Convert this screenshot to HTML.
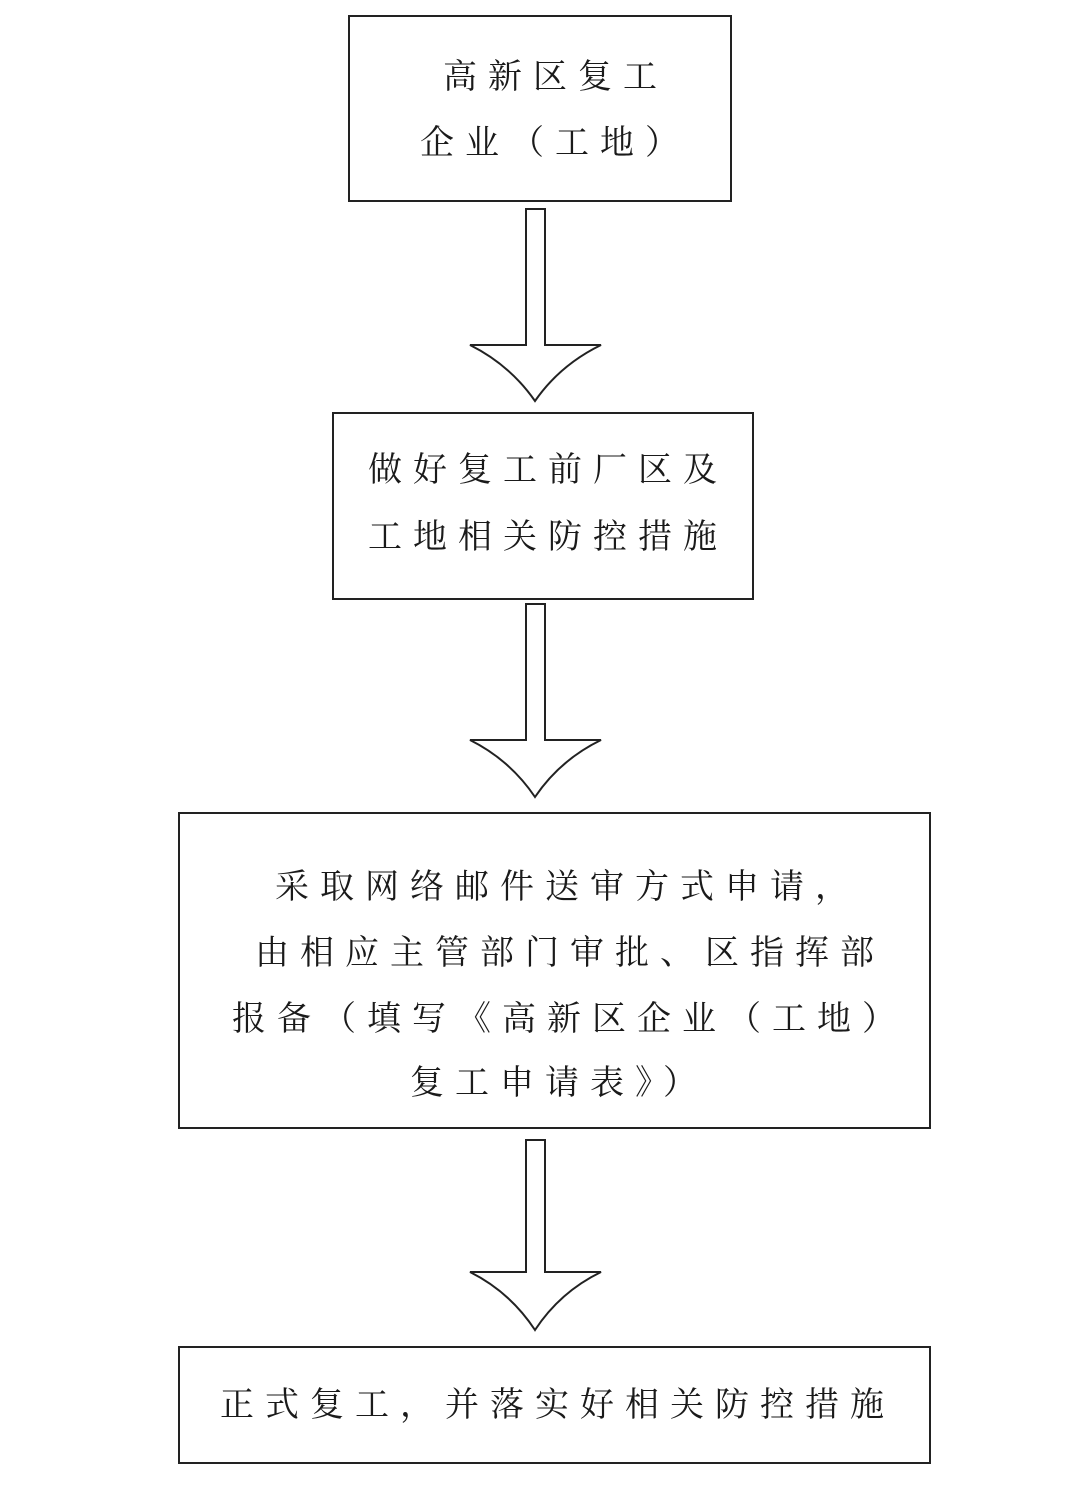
<!DOCTYPE html>
<html><head><meta charset="utf-8"><style>
body{margin:0;background:#fff;}
.c{position:relative;width:1080px;height:1496px;overflow:hidden;background:#fff;}
.b{position:absolute;border:2px solid #222;box-sizing:border-box;}
.t{position:absolute;font-family:"Liberation Serif","Noto Serif CJK SC",serif;font-size:34px;letter-spacing:11px;color:#1a1a1a;white-space:nowrap;line-height:40px;}
svg{position:absolute;left:0;top:0;}
</style></head><body><div class="c">
<div class="b" style="left:348px;top:15px;width:384px;height:187px"></div>
<div class="b" style="left:332px;top:412px;width:422px;height:188px"></div>
<div class="b" style="left:178px;top:812px;width:753px;height:317px"></div>
<div class="b" style="left:178px;top:1346px;width:753px;height:118px"></div>
<svg width="1080" height="1496">
<g fill="#fff" stroke="#222" stroke-width="2">
<path d="M526,209 L545,209 L545,345 L601,345 Q560,365 535,401 Q510,365 470,345 L526,345 Z"/>
<path d="M526,604 L545,604 L545,740 L601,740 Q560,760 535,797 Q510,760 470,740 L526,740 Z"/>
<path d="M526,1140 L545,1140 L545,1272 L601,1272 Q560,1292 535,1330 Q510,1292 470,1272 L526,1272 Z"/>
</g></svg>
<div class="t" style="left:443px;top:58px">高新区复工</div>
<div class="t" style="left:420px;top:124px">企业（工地）</div>
<div class="t" style="left:368px;top:451px">做好复工前厂区及</div>
<div class="t" style="left:368px;top:518px">工地相关防控措施</div>
<div class="t" style="left:275px;top:868px">采取网络邮件送审方式申请，</div>
<div class="t" style="left:255px;top:934px">由相应主管部门审批、区指挥部</div>
<div class="t" style="left:232px;top:1000px">报备（填写《高新区企业（工地）</div>
<div class="t" style="left:410px;top:1064px">复工申请表》）</div>
<div class="t" style="left:220px;top:1386px">正式复工，并落实好相关防控措施</div>
</div></body></html>
